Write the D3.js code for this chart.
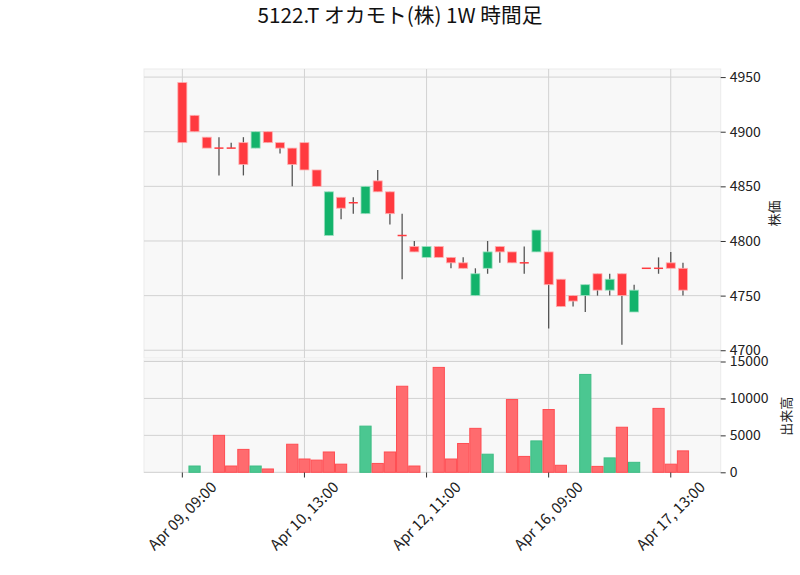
<!DOCTYPE html>
<html>
<head>
<meta charset="utf-8">
<script src="https://cdn.jsdelivr.net/npm/d3@7"></script>
<style>
  body { margin: 0; background: #fff; }
  text { font-family: "Noto Sans CJK JP", "Noto Sans", sans-serif; }
</style>
</head>
<body>
<svg id="drawing_region"></svg>
<script>
const title = "5122.T オカモト(株) 1W 時間足";

const open  = [4945,4915,4895,4885,4885,4890,4885,4900,4890,4885,4890,4865,4805,4840,4835,4825,4855,4845,4805,4795,4785,
               4795,4785,4780,4750,4775,4795,4790,4780,4790,4790,4765,4750,4750,4770,4755,4770,4735,4775,4775,4780,4775];
const high  = [4945,4915,4895,4895,4890,4895,4900,4900,4890,4885,4890,4865,4845,4840,4840,4850,4865,4845,4825,4800,4795,
               4795,4785,4785,4775,4800,4795,4790,4795,4810,4790,4765,4750,4760,4770,4770,4770,4760,4775,4785,4790,4780];
const low   = [4890,4900,4885,4860,4885,4860,4885,4890,4880,4850,4865,4850,4805,4820,4825,4825,4845,4815,4765,4790,4785,
               4785,4775,4775,4750,4770,4780,4780,4770,4790,4720,4740,4740,4735,4750,4750,4705,4735,4775,4770,4775,4750];
const close = [4890,4900,4885,4885,4885,4870,4900,4890,4885,4870,4865,4850,4845,4830,4835,4850,4845,4825,4805,4790,4795,
               4785,4780,4775,4770,4790,4790,4780,4780,4810,4760,4740,4745,4760,4755,4765,4750,4755,4775,4775,4775,4755];
const volume = [0,850,0,5000,850,3100,850,450,0,3800,1800,1650,2750,1100,0,6250,1200,2750,11650,850,0,
                14200,1800,3900,5950,2450,0,9850,2150,4250,8500,950,0,13250,800,1950,6100,1350,0,8650,1100,2900];

const tickIndex  = [0, 10, 20, 30, 40];
const tickLabels = ["Apr 09, 09:00", "Apr 10, 13:00", "Apr 12, 11:00", "Apr 16, 09:00", "Apr 17, 13:00"];
const priceTicks  = [4700, 4750, 4800, 4850, 4900, 4950];
const volumeTicks = [0, 5000, 10000, 15000];

const config = {
    width: 800, height: 575,
    left: 144, right: 720.7,
    main: {top: 69, bottom: 358},
    vol:  {top: 360, bottom: 472.5}
};

const colors = {
    up: "#13b36b", upEdge: "#9fe0c2",
    down: "#ff3a3f", downEdge: "#ffb0b2",
    volUp: "#4bc791", volUpEdge: "#3dbd84",
    volDown: "#ff6b6e", volDownEdge: "#ff4d52",
    wick: "#555555", grid: "#d2d2d2", bg: "#f8f8f8", text: "#222"
};

const data = open.map((o, i) => ({
    i: i, open: o, high: high[i], low: low[i], close: close[i], volume: volume[i],
    up: close[i] > o,
    volUp: i > 0 && close[i] > close[i - 1]
}));

const svg = d3.select("#drawing_region")
    .attr("width", config.width)
    .attr("height", config.height);

const x = d3.scaleLinear().domain([-3.14, 44.09]).range([config.left, config.right]);
const y = d3.scaleLinear().domain([4692.9, 4957.4]).range([config.main.bottom, config.main.top]);
const yv = d3.scaleLinear().domain([0, 15000]).range([472.3, 361.5]);
const step = x(1) - x(0);

// title
svg.append("text")
    .attr("x", 400).attr("y", 23)
    .attr("text-anchor", "middle")
    .attr("font-size", "20.7px")
    .attr("fill", "#111")
    .text(title);

function panel(top, bottom, yscale, ticks) {
    const g = svg.append("g");
    g.append("rect")
        .attr("x", config.left).attr("y", top)
        .attr("width", config.right - config.left).attr("height", bottom - top)
        .attr("fill", colors.bg)
        .attr("stroke", "#ebebeb");
    g.selectAll(".hgrid").data(ticks).enter().append("line")
        .attr("x1", config.left).attr("x2", config.right)
        .attr("y1", d => yscale(d)).attr("y2", d => yscale(d))
        .attr("stroke", colors.grid).attr("stroke-width", 1);
    g.selectAll(".vgrid").data(tickIndex).enter().append("line")
        .attr("x1", d => x(d)).attr("x2", d => x(d))
        .attr("y1", top).attr("y2", bottom)
        .attr("stroke", colors.grid).attr("stroke-width", 1);

    const axis = d3.axisRight(yscale).tickValues(ticks).tickSize(5).tickPadding(4).tickFormat(d3.format("d"));
    const ag = svg.append("g")
        .attr("transform", `translate(${config.right},0)`)
        .call(axis);
    ag.select(".domain").remove();
    ag.selectAll(".tick line").attr("stroke", "#333");
    ag.selectAll(".tick text")
        .attr("font-size", "14px")
        .attr("fill", colors.text)
        .style("font-family", "'Noto Sans CJK JP', sans-serif");
    return g;
}

panel(config.main.top, config.main.bottom, y, priceTicks);
panel(config.vol.top, config.vol.bottom, yv, volumeTicks);

// wicks
const bodyW = step * 0.74;
svg.append("g").selectAll("line").data(data).enter().append("line")
    .attr("x1", d => x(d.i)).attr("x2", d => x(d.i))
    .attr("y1", d => y(d.high)).attr("y2", d => y(d.low))
    .attr("stroke", colors.wick).attr("stroke-width", 1.3);

// bodies
svg.append("g").selectAll("rect").data(data.filter(d => d.open !== d.close)).enter().append("rect")
    .attr("x", d => x(d.i) - bodyW / 2)
    .attr("width", bodyW)
    .attr("y", d => y(Math.max(d.open, d.close)))
    .attr("height", d => Math.abs(y(d.open) - y(d.close)))
    .attr("fill", d => d.up ? colors.up : colors.down)
    .attr("stroke", d => d.up ? colors.upEdge : colors.downEdge)
    .attr("stroke-width", 0.8);

// doji
svg.append("g").selectAll("line").data(data.filter(d => d.open === d.close)).enter().append("line")
    .attr("x1", d => x(d.i) - bodyW / 2).attr("x2", d => x(d.i) + bodyW / 2)
    .attr("y1", d => y(d.close)).attr("y2", d => y(d.close))
    .attr("stroke", colors.down).attr("stroke-width", 1.5);

// volume
svg.append("g").selectAll("rect").data(data.filter(d => d.volume > 0)).enter().append("rect")
    .attr("x", d => x(d.i - 0.5) + 0.5)
    .attr("width", step - 1)
    .attr("y", d => yv(d.volume))
    .attr("height", d => yv(0) - yv(d.volume))
    .attr("fill", d => d.volUp ? colors.volUp : colors.volDown)
    .attr("stroke", d => d.volUp ? colors.volUpEdge : colors.volDownEdge)
    .attr("stroke-width", 1);

// x axis
const xg = svg.append("g");
xg.selectAll("line").data(tickIndex).enter().append("line")
    .attr("x1", d => x(d)).attr("x2", d => x(d))
    .attr("y1", config.vol.bottom).attr("y2", config.vol.bottom + 5)
    .attr("stroke", "#333");
xg.selectAll("text").data(tickIndex).enter().append("text")
    .attr("transform", d => `translate(${x(d)},516) rotate(-45)`)
    .attr("text-anchor", "middle")
    .attr("dy", "0.35em")
    .attr("font-size", "15px")
    .attr("fill", colors.text)
    .text((d, k) => tickLabels[k]);

// y labels
svg.append("text")
    .attr("transform", `translate(779,${(config.main.top + config.main.bottom) / 2}) rotate(-90)`)
    .attr("text-anchor", "middle")
    .attr("font-size", "13px")
    .attr("fill", colors.text)
    .text("株価");
svg.append("text")
    .attr("transform", `translate(791,${(config.vol.top + config.vol.bottom) / 2}) rotate(-90)`)
    .attr("text-anchor", "middle")
    .attr("font-size", "13px")
    .attr("fill", colors.text)
    .text("出来高");
</script>
</body>
</html>
